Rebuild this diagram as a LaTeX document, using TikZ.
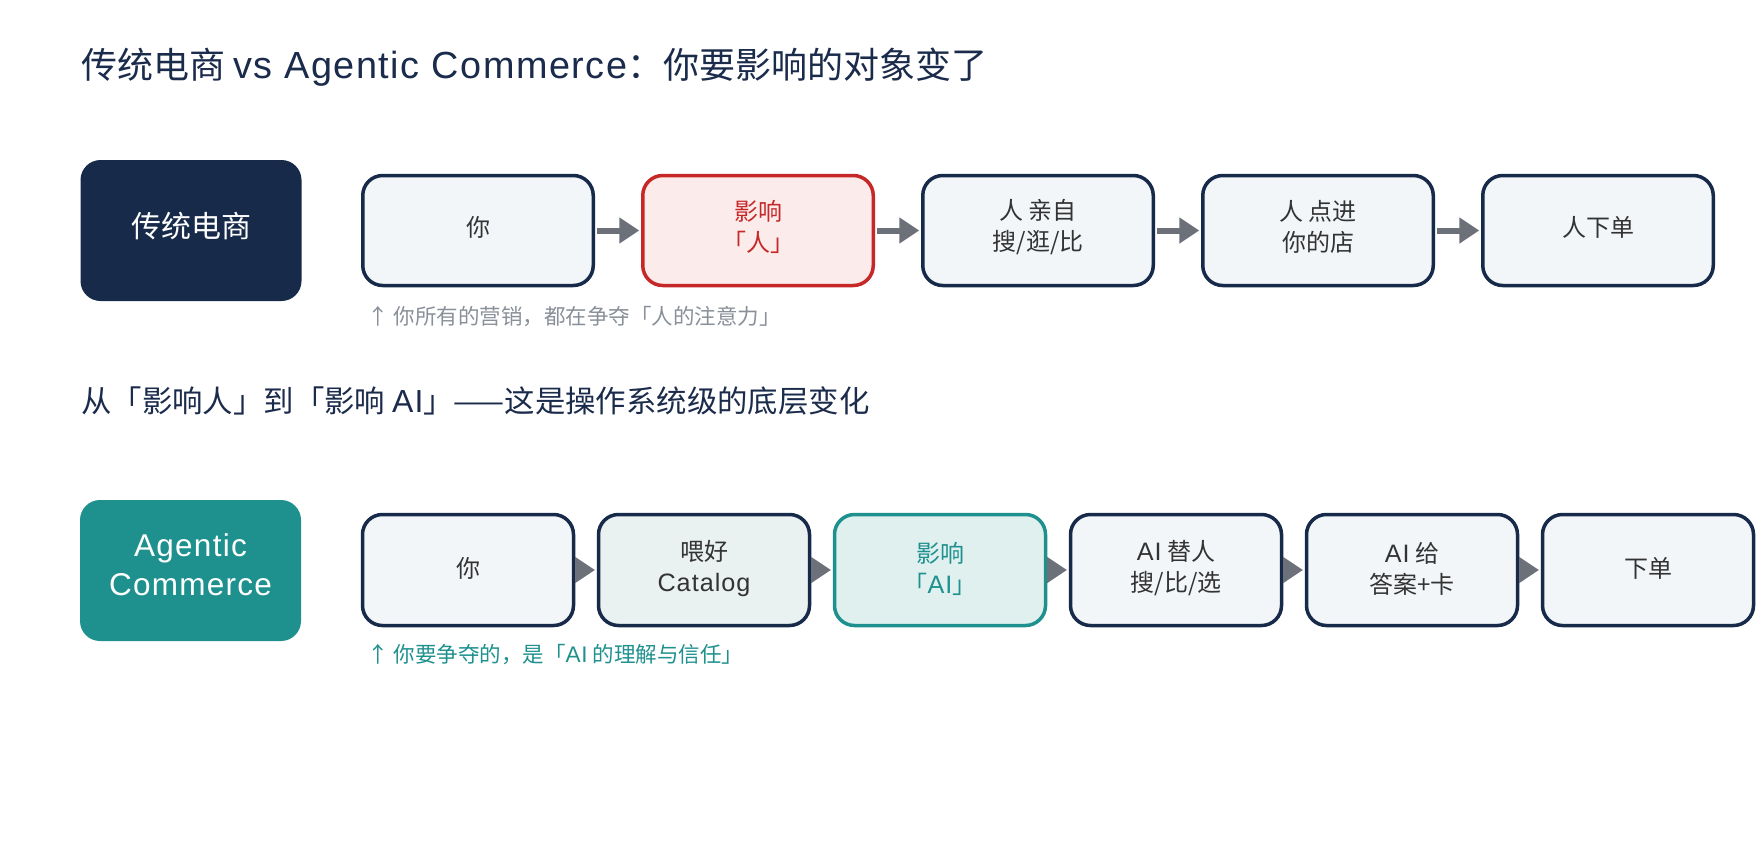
\documentclass[tikz,border=0pt]{standalone}
\usepackage{fontspec}
\setmainfont{Noto Sans CJK SC}
\newfontfamily\lat[Scale=1.05,LetterSpace=4]{Liberation Sans}
\newcommand\la[1]{{\lat #1}}
\usetikzlibrary{arrows.meta}
\definecolor{navy}{HTML}{172A4A}
\definecolor{titlenavy}{HTML}{1B2B4B}
\definecolor{tealc}{HTML}{1E918E}
\definecolor{boxfill}{HTML}{F3F6F9}
\definecolor{redc}{HTML}{C62828}
\definecolor{redfill}{HTML}{FCEBEB}
\definecolor{tealfill}{HTML}{E0F0EF}
\definecolor{tealgray}{HTML}{E9F2F1}
\definecolor{arrowgray}{HTML}{6B7079}
\definecolor{capgray}{HTML}{8A9099}
\definecolor{boxtext}{HTML}{333333}
\begin{document}
\begin{tikzpicture}[x=1pt,y=-1pt,
  stepbox/.style={draw=navy, line width=3.5pt, fill=boxfill, rounded corners=20pt, inner sep=0pt},
  rowone/.style={stepbox, minimum width=230.5pt, minimum height=110pt},
  rowtwo/.style={stepbox, minimum width=211pt, minimum height=111pt},
  boxtxt/.style={inner sep=0pt, align=center, text=boxtext, font=\fontsize{24}{31}\selectfont},
  labelbox/.style={fill=navy, rounded corners=20pt, minimum width=221pt,
    minimum height=141pt, inner sep=0pt},
  labeltxt/.style={inner sep=0pt, text=white, align=center},
  flow/.style={draw=arrowgray, line width=6pt, -{Triangle[length=20pt,width=25pt]},
    shorten <=1.75pt, shorten >=1.75pt},
  caption/.style={anchor=west, inner sep=0pt, font=\fontsize{21.5}{26}\selectfont}
]
\useasboundingbox[fill=white] (0,0) rectangle (1760,860);

% title
\node[anchor=west, inner sep=0pt, text=titlenavy, font=\fontsize{36}{43}\selectfont]
  (title) at (81,67) {传统电商 \la{vs Agentic Commerce}：你要影响的对象变了};

% row 1
\node[labelbox] (L1) at (191,230.5) {};
\node[labeltxt, font=\fontsize{30}{36}\selectfont] (L1t) at ([yshift=4.5pt]L1.center) {传统电商};
\node[rowone] (a1) at (478,230.5) {};
\node[rowone, draw=redc, fill=redfill] (a2) at (758,230.5) {};
\node[rowone] (a3) at (1038,230.5) {};
\node[rowone] (a4) at (1318,230.5) {};
\node[rowone] (a5) at (1598,230.5) {};
\node[boxtxt] (a1t) at ([yshift=3.5pt]a1.center) {你};
\node[boxtxt, text=redc] (a2t) at ([yshift=3.5pt]a2.center) {影响\\「人」};
\node[boxtxt] (a3t) at ([yshift=3.5pt]a3.center) {人 亲自\\搜/逛/比};
\node[boxtxt] (a4t) at ([yshift=3.5pt]a4.center) {人 点进\\你的店};
\node[boxtxt] (a5t) at ([yshift=3.5pt]a5.center) {人下单};
\draw[flow] (a1.east) -- (a2.west);
\draw[flow] (a2.east) -- (a3.west);
\draw[flow] (a3.east) -- (a4.west);
\draw[flow] (a4.east) -- (a5.west);
\node[caption, text=capgray] (c1) at (367,317) {↑ 你所有的营销，都在争夺「人的注意力」};

% heading
\node[anchor=west, inner sep=0pt, text=titlenavy, font=\fontsize{30.4}{36}\selectfont]
  (sub) at (81,401) {从「影响人」到「影响 \la{AI}」——这是操作系统级的底层变化};

% row 2
\node[labelbox, fill=tealc] (L2) at (190.5,570.5) {};
\node[labeltxt, font=\fontsize{30}{39}\selectfont\lat] (L2t) at ([yshift=5.5pt]L2.center) {Agentic\\Commerce};
\node[rowtwo] (b1) at (468,570) {};
\node[rowtwo, fill=tealgray] (b2) at (704,570) {};
\node[rowtwo, draw=tealc, fill=tealfill] (b3) at (940,570) {};
\node[rowtwo] (b4) at (1176,570) {};
\node[rowtwo] (b5) at (1412,570) {};
\node[rowtwo] (b6) at (1648,570) {};
\node[boxtxt] (b1t) at ([yshift=1.5pt]b1.center) {你};
\node[boxtxt] (b2t) at ([yshift=1.5pt]b2.center) {喂好\\\la{Catalog}};
\node[boxtxt, text=tealc] (b3t) at ([yshift=1.5pt]b3.center) {影响\\「\la{AI}」};
\node[boxtxt] (b4t) at ([yshift=1.5pt]b4.center) {\la{AI} 替人\\搜/比/选};
\node[boxtxt] (b5t) at ([yshift=1.5pt]b5.center) {\la{AI} 给\\答案+卡};
\node[boxtxt] (b6t) at ([yshift=1.5pt]b6.center) {下单};
\draw[flow] (b1.east) -- (b2.west);
\draw[flow] (b2.east) -- (b3.west);
\draw[flow] (b3.east) -- (b4.west);
\draw[flow] (b4.east) -- (b5.west);
\draw[flow] (b5.east) -- (b6.west);
\node[caption, text=tealc] (c2) at (367,655) {↑ 你要争夺的，是「\la{AI} 的理解与信任」};
\end{tikzpicture}
\end{document}
